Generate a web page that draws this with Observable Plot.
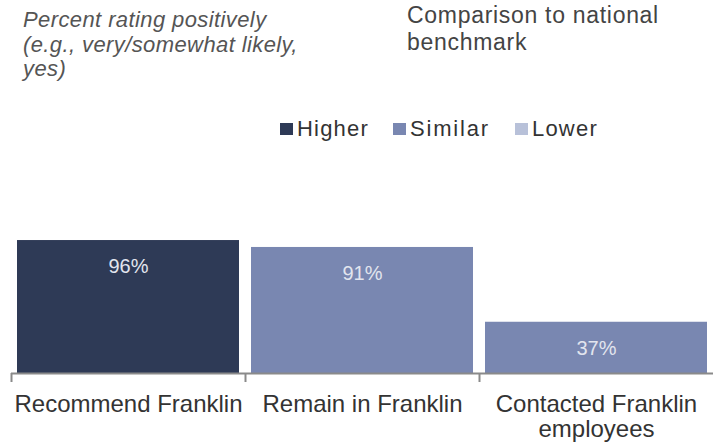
<!DOCTYPE html>
<html><head><meta charset="utf-8">
<script src="https://cdn.jsdelivr.net/npm/d3@7"></script>
<script src="https://cdn.jsdelivr.net/npm/@observablehq/plot@0.6"></script>
<style>
html,body{margin:0;padding:0;background:#fff;}
#wrap{position:relative;width:713px;height:442px;overflow:hidden;font-family:"Liberation Sans",Arial,sans-serif;}
#chart{position:absolute;left:0;top:0;}
.t1{position:absolute;left:23px;top:8px;font-size:22px;line-height:24.5px;font-style:italic;color:#555;letter-spacing:0.4px;white-space:nowrap;}
.t2{position:absolute;left:407px;top:1.5px;font-size:23px;line-height:27px;color:#444;letter-spacing:0.7px;white-space:nowrap;}
.legend{position:absolute;left:280px;top:118px;display:flex;align-items:center;font-size:22px;line-height:22px;color:#333;letter-spacing:1.2px;white-space:nowrap;}
.legend .item{display:flex;align-items:center;}
.legend .item:nth-child(1){width:113px;}
.legend .item:nth-child(2){width:122px;}
.legend .item:nth-child(2) span.tx{letter-spacing:1.8px;}
.legend .sw{width:13px;height:12px;margin-right:4px;}
</style></head><body>
<div id="wrap">
  <div id="chart"></div>
  <div class="t1" id="t1"></div>
  <div class="t2" id="t2"></div>
  <div class="legend" id="legend"></div>
</div>
<script>
const categories = ["Recommend Franklin", "Remain in Franklin", "Contacted Franklin employees"];
const values = [96, 91, 37];
const comparison = ["Higher", "Similar", "Similar"];
const tickLabels = ["Recommend Franklin", "Remain in Franklin", "Contacted Franklin\nemployees"];
const legendLabels = ["Higher", "Similar", "Lower"];
const legendColors = ["#2e3a56", "#7987b1", "#b8c1d9"];
const titleLines = ["Percent rating positively", "(e.g., very/somewhat likely,", "yes)"];
const subtitleLines = ["Comparison to national", "benchmark"];

const data = categories.map((c, i) => ({cat: c, value: values[i], comp: comparison[i]}));

document.getElementById("t1").innerHTML = titleLines.join("<br>");
document.getElementById("t2").innerHTML = subtitleLines.join("<br>");
const lg = document.getElementById("legend");
legendLabels.forEach((l, i) => {
  const it = document.createElement("div");
  it.className = "item";
  const sw = document.createElement("span");
  sw.className = "sw";
  sw.style.background = legendColors[i];
  it.appendChild(sw);
  const tx = document.createElement("span");
  tx.className = "tx";
  tx.textContent = l;
  it.appendChild(tx);
  lg.appendChild(it);
});

const chart = Plot.plot({
  width: 713,
  height: 442,
  marginTop: 234.5,
  marginBottom: 69,
  marginLeft: 11,
  marginRight: 0,
  style: {fontFamily: "'Liberation Sans', Arial, sans-serif", background: "transparent"},
  x: {domain: categories, paddingInner: 0.05, paddingOuter: 0.02, label: null},
  y: {domain: [0, 100], axis: null},
  color: {domain: legendLabels, range: legendColors},
  marks: [
    Plot.barY(data, {x: "cat", y: "value", fill: "comp"}),
    Plot.text(data, {x: "cat", y: "value", text: d => d.value + "%", dy: 26, fill: "#e2e5ee", fontSize: 20, lineAnchor: "middle"}),
    Plot.ruleY([0], {stroke: "#8a8a8a", strokeWidth: 2}),
    Plot.ruleX(categories, {
      x: d => d, y1: 0, y2: 0, insetBottom: -9, stroke: "#8a8a8a", strokeWidth: 2,
      render(index, scales, vals, dims, ctx, next) {
        const half = scales.x.step() / 2;
        vals.x = Float64Array.from(vals.x, v => v - half);
        return next(index, scales, vals, dims, ctx);
      }
    }),
    Plot.axisX({tickSize: 0, tickPadding: 21, fontSize: 24, fill: "#333", lineHeight: 1.04, label: null,
      tickFormat: d => tickLabels[categories.indexOf(d)]})
  ]
});
document.getElementById("chart").appendChild(chart);
</script>
</body></html>
